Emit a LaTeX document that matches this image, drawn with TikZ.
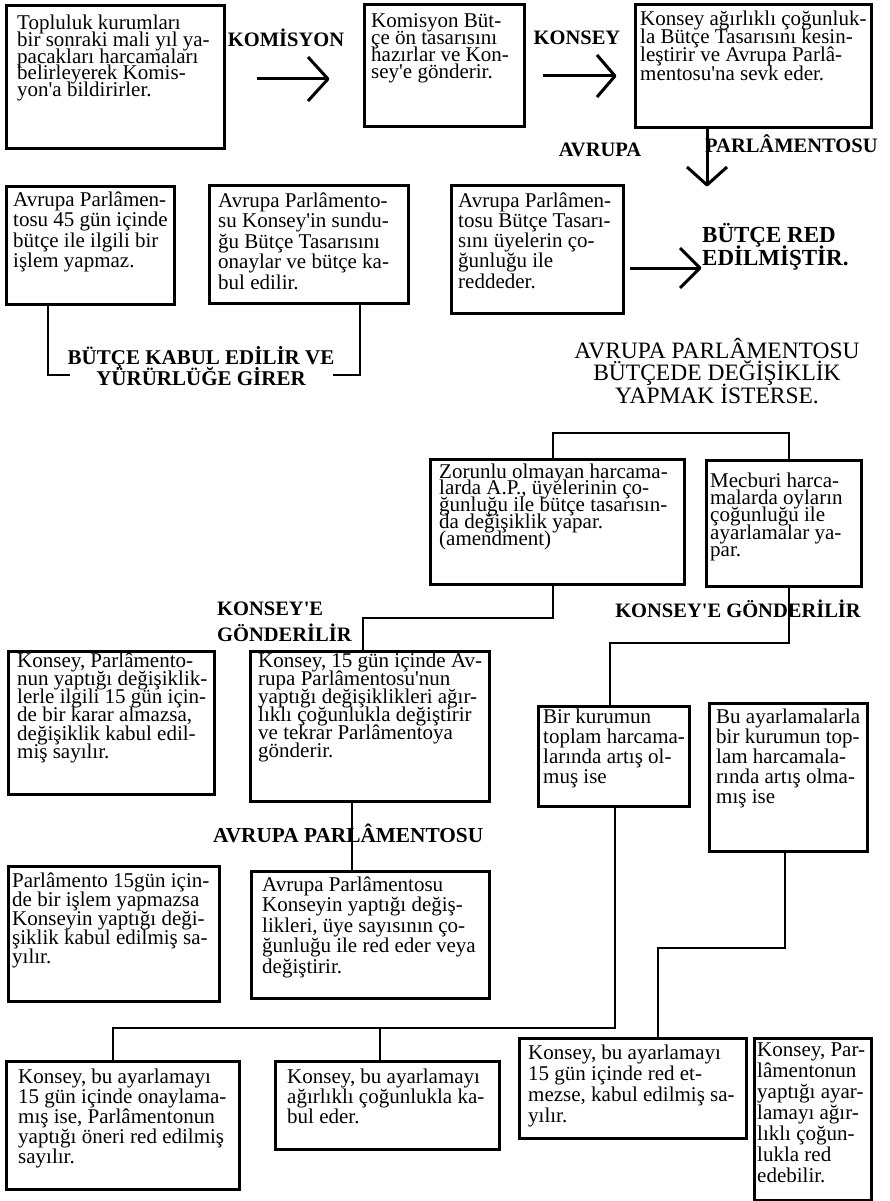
\documentclass[tikz,border=0pt]{standalone}
\usepackage{fontspec}
\setmainfont{Liberation Serif}[Ligatures=TeXOff]
\lineskiplimit=-100pt
\lineskip=0pt
\tikzset{
  boxst/.style={draw, rectangle, line width=2.8pt, inner sep=0pt},
  txt/.style={inner sep=0pt, align=left},
  conn/.style={line width=2.5pt},
  arr/.style={line width=3pt, line join=round},
  lbl/.style={inner sep=0pt, font=\bfseries\fontsize{20.5pt}{22pt}\selectfont},
}
\newcommand{\mkbox}[5]{\node[boxst, anchor=north west, minimum width={#4-#2}, minimum height={#5-#3}] (#1) at (#2,#3) {};}
\newcommand{\mktext}[5]{\node[txt, anchor=north west, font=\fontsize{21pt}{#4pt}\selectfont] (#1) at (#2,#3-24) {\rule{0pt}{24pt}#5};}
\begin{document}
\begin{tikzpicture}[x=1pt,y=-1pt]
\useasboundingbox (0,0) rectangle (890,1201);
\fill[white] (0,0) rectangle (890,1201);

% ---------- boxes ----------
\mkbox{A}{5}{4}{223}{147}
\mktext{At}{17}{29.3}{16.8}{Topluluk kurumları\\bir sonraki mali yıl ya-\\pacakları harcamaları\\belirleyerek Komis-\\yon'a bildirirler.}
\mkbox{B}{363}{3}{523}{125}
\mktext{Bt}{371}{27.5}{17}{Komisyon Büt-\\çe ön tasarısını\\hazırlar ve Kon-\\sey'e gönderir.}
\mkbox{C}{634}{3}{870}{126}
\mktext{Ct}{640}{25}{18.3}{Konsey ağırlıklı çoğunluk-\\la Bütçe Tasarısını kesin-\\leştirir ve Avrupa Parlâ-\\mentosu'na sevk eder.}
\mkbox{D}{5}{185}{173}{303}
\mktext{Dt}{13}{206}{20.5}{Avrupa Parlâmen-\\tosu 45 gün içinde\\bütçe ile ilgili bir\\işlem yapmaz.}
\mkbox{E}{208}{184}{407}{302}
\mktext{Et}{218}{207}{20.5}{Avrupa Parlâmento-\\su Konsey'in sundu-\\ğu Bütçe Tasarısını\\onaylar ve bütçe ka-\\bul edilir.}
\mkbox{F}{450}{184}{622}{312}
\mktext{Ft}{458}{207}{20.2}{Avrupa Parlâmen-\\tosu Bütçe Tasarı-\\sını üyelerin ço-\\ğunluğu ile\\reddeder.}
\mkbox{G}{429}{458}{683}{583}
\mktext{Gt}{439}{478}{16.7}{Zorunlu olmayan harcama-\\larda A.P., üyelerinin ço-\\ğunluğu ile bütçe tasarısın-\\da değişiklik yapar.\\(amendment)}
\mkbox{H}{705}{459}{860}{585}
\mktext{Ht}{710}{487}{17.3}{Mecburi harca-\\malarda oyların\\çoğunluğu ile\\ayarlamalar ya-\\par.}
\mkbox{I}{7}{650}{213}{793}
\mktext{It}{17}{667}{18.2}{Konsey, Parlâmento-\\nun yaptığı değişiklik-\\lerle ilgili 15 gün için-\\de bir karar almazsa,\\değişiklik kabul edil-\\miş sayılır.}
\mkbox{K}{249}{650}{488}{800}
\mktext{Kt}{258}{667}{18.1}{Konsey, 15 gün içinde Av-\\rupa Parlâmentosu'nun\\yaptığı değişiklikleri ağır-\\lıklı çoğunlukla değiştirir\\ve tekrar Parlâmentoya\\gönderir.}
\mkbox{J}{537}{705}{688}{805}
\mktext{Jt}{543}{723}{20}{Bir kurumun\\toplam harcama-\\larında artış ol-\\muş ise}
\mkbox{Q}{708}{702}{866}{850}
\mktext{Qt}{716}{723}{20}{Bu ayarlamalarla\\bir kurumun top-\\lam harcamala-\\rında artış olma-\\mış ise}
\mkbox{M}{7}{865}{218}{1000}
\mktext{Mt}{12}{887}{19}{Parlâmento 15gün için-\\de bir işlem yapmazsa\\Konseyin yaptığı deği-\\şiklik kabul edilmiş sa-\\yılır.}
\mkbox{L}{250}{870}{488}{997}
\mktext{Lt}{262}{891}{20.5}{Avrupa Parlâmentosu\\Konseyin yaptığı değiş-\\likleri, üye sayısının ço-\\ğunluğu ile red eder veya\\değiştirir.}
\mkbox{N}{5}{1060}{238}{1188}
\mktext{Nt}{18}{1083}{20}{Konsey, bu ayarlamayı\\15 gün içinde onaylama-\\mış ise, Parlâmentonun\\yaptığı öneri red edilmiş\\sayılır.}
\mkbox{O}{274}{1060}{498}{1148}
\mktext{Ot}{287}{1083}{20}{Konsey, bu ayarlamayı\\ağırlıklı çoğunlukla ka-\\bul eder.}
\mkbox{P}{518}{1037}{745}{1137}
\mktext{Pt}{528}{1059}{21}{Konsey, bu ayarlamayı\\15 gün içinde red et-\\mezse, kabul edilmiş sa-\\yılır.}
\mkbox{R}{753}{1037}{870}{1199}
\mktext{Rt}{757}{1056}{21}{Konsey, Par-\\lâmentonun\\yaptığı ayar-\\lamayı ağır-\\lıklı çoğun-\\lukla red\\edebilir.}

% ---------- labels ----------
\node[lbl, anchor=base] (komisyon) at (286,47) {KOMİSYON};
\node[lbl, anchor=base] (konsey) at (577,45) {KONSEY};
\node[lbl, anchor=base] (avrupa1) at (600,157) {AVRUPA};
\node[lbl, anchor=base west] (parl1) at (705,153) {PARLÂMENTOSU};
\node[lbl, align=center, anchor=north, font=\bfseries\fontsize{21pt}{21pt}\selectfont] (kabul) at (201,364-24) {\rule{0pt}{24pt}BÜTÇE KABUL EDİLİR VE\\YÜRÜRLÜĞE GİRER};
\node[lbl, align=left, anchor=north west, font=\bfseries\fontsize{23pt}{23pt}\selectfont] (red) at (702,242-24) {\rule{0pt}{24pt}BÜTÇE RED\\EDİLMİŞTİR.};
\node[txt, align=center, anchor=north, font=\fontsize{23.5pt}{22.5pt}\selectfont] (degis) at (717,358-24) {\rule{0pt}{24pt}AVRUPA PARLÂMENTOSU\\BÜTÇEDE DEĞİŞİKLİK\\YAPMAK İSTERSE.};
\node[lbl, align=left, anchor=north west, font=\bfseries\fontsize{20.5pt}{26pt}\selectfont] (kg1) at (217,615-24) {\rule{0pt}{24pt}KONSEY'E\\GÖNDERİLİR};
\node[lbl, anchor=base] (kg2) at (738,617) {KONSEY'E GÖNDERİLİR};
\node[lbl, anchor=base west, font=\bfseries\fontsize{21.3pt}{22pt}\selectfont] (ap2) at (213,842) {AVRUPA PARLÂMENTOSU};

% ---------- arrows ----------
\coordinate (a1s) at (257,79); \coordinate (a1e) at (328,79);
\draw[arr] (a1s) -- (a1e);
\draw[arr] (a1e) ++(-20,-22) -- (a1e) -- ++(-20,22);
\coordinate (a2s) at (543,76); \coordinate (a2e) at (615,76);
\draw[arr] (a2s) -- (a2e);
\draw[arr] (a2e) ++(-18,-21) -- (a2e) -- ++(-18,21);
\coordinate (a3e) at (707,185);
\draw[arr] (a3e |- C.south) -- (a3e);
\draw[arr] (a3e) ++(-20,-18) -- (a3e) -- ++(20,-18);
\coordinate (a4s) at (630,268); \coordinate (a4e) at (700,268);
\draw[arr] (a4s) -- (a4e);
\draw[arr] (a4e) ++(-20,-20) -- (a4e) -- ++(-20,20);

% ---------- connectors ----------
\coordinate (kdl) at (48,375); \coordinate (kl) at (70,375);
\coordinate (kdr) at (360,375); \coordinate (kr) at (333,375);
\draw[conn] (kdl |- D.south) -- (kdl) -- (kl);
\draw[conn] (kdr |- E.south) -- (kdr) -- (kr);

\coordinate (t1) at (553,433); \coordinate (t2) at (789,433);
\draw[conn] (t1 |- G.north) -- (t1) -- (t2) -- (t2 |- H.north);

\coordinate (g1) at (553,618); \coordinate (g2) at (363,618);
\draw[conn] (g1 |- G.south) -- (g1) -- (g2) -- (g2 |- K.north);

\coordinate (h1) at (789,643); \coordinate (h2) at (610,643);
\draw[conn] (h1 |- H.south) -- (h1) -- (h2) -- (h2 |- J.north);

\coordinate (k1) at (352,835);
\draw[conn] (k1 |- K.south) -- (k1 |- L.north);

\coordinate (j1) at (615,1028); \coordinate (j2) at (113,1028); \coordinate (j3) at (380,1028);
\draw[conn] (j1 |- J.south) -- (j1) -- (j2) -- (j2 |- N.north);
\draw[conn] (j3) -- (j3 |- O.north);

\coordinate (q1) at (785,948); \coordinate (q2) at (658,948);
\draw[conn] (q1 |- Q.south) -- (q1) -- (q2) -- (q2 |- P.north);
\end{tikzpicture}
\end{document}
